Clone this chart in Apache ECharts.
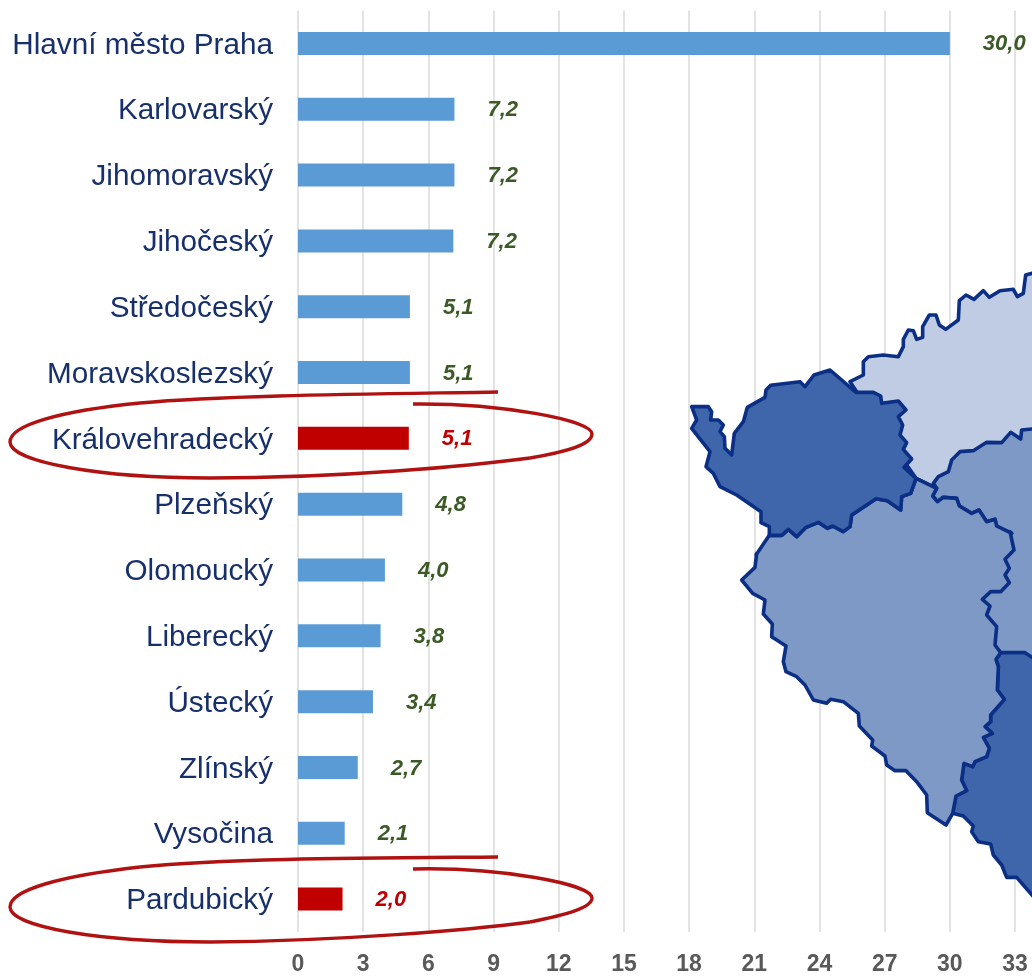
<!DOCTYPE html>
<html><head><meta charset="utf-8">
<style>html,body{margin:0;padding:0;background:#fff}#c{width:1032px;height:976px}</style>
<script src="https://cdn.jsdelivr.net/npm/echarts@6/dist/echarts.min.js"></script>
</head><body><div id="c"></div>
<script>
const categories = ["Hlavní město Praha","Karlovarský","Jihomoravský","Jihočeský","Středočeský","Moravskoslezský","Královehradecký","Plzeňský","Olomoucký","Liberecký","Ústecký","Zlínský","Vysočina","Pardubický"];
const values = [30.0,7.2,7.2,7.15,5.15,5.15,5.1,4.8,4.0,3.8,3.45,2.75,2.15,2.05];
const valueLabels = ["30,0","7,2","7,2","7,2","5,1","5,1","5,1","4,8","4,0","3,8","3,4","2,7","2,1","2,0"];
const highlighted = ["Královehradecký","Pardubický"];

// decorative map outlines (crop coordinates of the reference)
const z1 = p => p.map(([x,y]) => [680+x/3, 260+y/3]);
const z2 = p => p.map(([x,y]) => [730+x/3, 520+y/3]);
const lightRegion = z1([[510,365],[550,345],[550,305],[565,290],[610,285],[655,290],[670,260],[670,238],[685,210],[700,212],[710,238],[728,232],[728,200],[748,165],[768,165],[778,195],[797,208],[835,180],[838,122],[858,105],[882,118],[910,92],[928,112],[960,92],[1000,88],[1012,110],[1030,100],[1037,45],[1056,40],[1120,30],[1120,760],[770,685],[708,655],[600,500]]);
const darkWest = z1([[35,440],[85,440],[95,455],[92,480],[115,480],[130,495],[120,515],[133,530],[135,565],[155,585],[163,520],[190,485],[202,442],[255,412],[258,390],[272,376],[360,365],[375,380],[402,345],[450,330],[528,397],[580,397],[602,408],[605,430],[655,423],[678,450],[655,470],[668,495],[660,525],[680,548],[670,568],[695,597],[672,622],[708,655],[692,700],[665,710],[662,750],[622,722],[588,716],[515,765],[510,800],[490,815],[458,798],[442,805],[415,787],[378,802],[350,830],[325,808],[305,826],[268,826],[268,800],[243,788],[243,755],[170,705],[120,680],[100,640],[78,620],[90,575],[35,505],[50,480]]);
const midEast = z1([[760,670],[775,650],[805,635],[815,600],[840,575],[880,572],[920,547],[965,548],[992,517],[1022,537],[1025,510],[1056,507],[1120,507],[1120,1200],[840,1200],[840,830],[995,820],[950,798],[945,778],[920,785],[897,750],[875,760],[838,738],[830,715],[790,712],[772,725],[758,708],[770,685]]);
const midSouth = z1([[995,820],[950,798],[945,778],[920,785],[897,750],[875,760],[838,738],[830,715],[790,712],[772,725],[758,708],[770,685],[708,655],[692,700],[665,710],[662,750],[622,722],[588,716],[515,765],[510,800],[490,815],[458,798],[442,805],[415,787],[378,802],[350,830],[325,808],[305,826],[268,826],[228,885]]).concat(z2([[80,100],[75,142],[35,180],[68,220],[105,240],[100,282],[127,312],[125,350],[168,378],[160,425],[168,455],[200,470],[225,495],[250,540],[290,550],[302,538],[340,545],[385,580],[388,618],[428,660],[425,678],[465,708],[470,735],[495,752],[528,752],[560,785],[590,825],[592,878],[648,915],[668,880],[678,828],[710,812],[695,780],[702,730],[728,740],[735,725],[770,710],[778,685],[760,652],[787,640],[765,620],[782,605],[782,585],[823,538],[802,510],[805,440],[798,418],[812,398],[795,375],[800,320],[770,285],[780,258],[757,238],[782,215],[812,215],[838,188],[825,165],[838,145],[825,118],[852,90],[840,35]]));
const darkSouth = z2([[812,398],[885,398],[906,412],[1000,450],[1000,1230],[906,1125],[860,1072],[830,1072],[815,1035],[790,1005],[782,972],[745,965],[725,935],[730,918],[700,888],[668,880],[678,828],[710,812],[695,780],[702,730],[728,740],[735,725],[770,710],[778,685],[760,652],[787,640],[765,620],[782,605],[782,585],[823,538],[802,510],[805,440],[798,418]]);
// hand-drawn rings: start point followed by cubic segments [cp1x,cp1y,cp2x,cp2y,x,y]
const ringTop = {start:[498,392],segs:[[380,394,230,395,140,403],[60,411,10,425,10,442],[10,462,100,478,210,478],[340,478,470,466,530,458],[565,452,592,445,592,434],[592,420,500,403,413,404]]};
const ringBottom = {start:[498,857],segs:[[380,858,230,858,140,867],[60,876,10,890,10,907],[10,927,100,942,210,942],[340,941,470,930,530,922],[565,915,592,908,592,898],[592,884,500,867,413,869]]};

const BLUE='#0b2f85';
const region=(points,fill)=>({type:'polygon',shape:{points},style:{fill,stroke:BLUE,lineWidth:3.6,lineJoin:'round'},z:10});
const ring=r=>{let [px,py]=r.start;return r.segs.map(s=>{const el={type:'bezierCurve',shape:{x1:px,y1:py,cpx1:s[0],cpy1:s[1],cpx2:s[2],cpy2:s[3],x2:s[4],y2:s[5]},style:{fill:null,stroke:'#b01212',lineWidth:3.4},z:12};px=s[4];py=s[5];return el;});};

const chart=echarts.init(document.getElementById('c'),null,{renderer:'canvas'});
chart.setOption({
  animation:false,
  backgroundColor:'#fff',
  grid:{left:298,top:10.5,right:0,height:922.5,containLabel:false},
  xAxis:{type:'value',min:0,max:33.78,interval:3,
    axisLine:{show:false},axisTick:{show:false},
    splitLine:{show:true,showMaxLine:false,lineStyle:{color:'#dcdcdc',width:1.6}},
    axisLabel:{margin:21,color:'#595959',fontFamily:'Liberation Sans',fontWeight:'bold',fontSize:23,showMaxLabel:false}},
  yAxis:{type:'category',inverse:true,data:categories,
    axisLine:{show:false},axisTick:{show:false},
    axisLabel:{interval:0,margin:25,verticalAlign:'top',lineHeight:4,color:'#17306b',fontFamily:'Liberation Sans',fontSize:29.7}},
  series:[{type:'bar',barWidth:23,
    data:values.map((v,i)=>({value:v,
      itemStyle:{color:highlighted.includes(categories[i])?'#c00000':'#5b9bd5'},
      label:{color:highlighted.includes(categories[i])?'#c00000':'#3b5a26'}})),
    label:{show:true,position:'right',distance:33,offset:[0,1],fontFamily:'Liberation Sans',fontWeight:'bold',fontStyle:'italic',fontSize:22,
      formatter:p=>valueLabels[p.dataIndex]}}],
  graphic:{elements:[
    region(lightRegion,'#bfcce4'),
    region(midEast,'#7f99c6'),
    region(darkSouth,'#3f66aa'),
    region(midSouth,'#7f99c6'),
    region(darkWest,'#3f66aa'),
    ...ring(ringTop),...ring(ringBottom)
  ]}
});
</script></body></html>
